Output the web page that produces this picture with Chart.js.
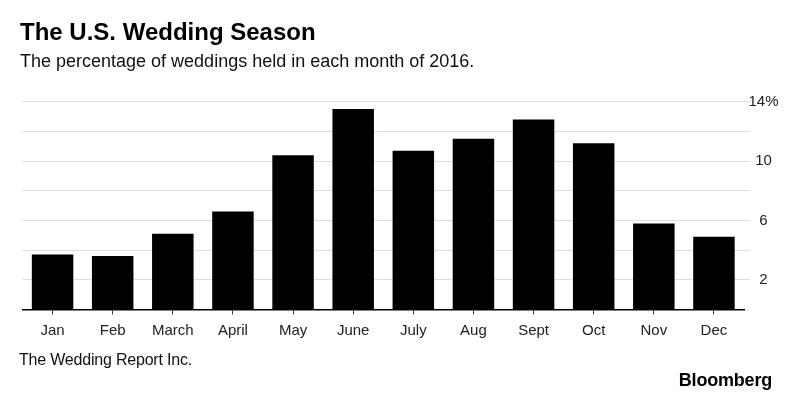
<!DOCTYPE html>
<html>
<head>
<meta charset="utf-8">
<script src="https://cdn.jsdelivr.net/npm/chart.js@4"></script>
<style>
    body { margin: 0; background: #fff; }
    #wrap { position: relative; width: 800px; height: 398px; overflow: hidden; font-family: 'Liberation Sans', Arial, sans-serif; }
    #weddingChart { position: absolute; left: 0; top: 0; }
    .txt { position: absolute; white-space: nowrap; }
    #title { left: 20px; top: 20px; font-size: 24px; line-height: 24px; font-weight: bold; color: #000; }
    #subtitle { left: 20px; top: 51.5px; font-size: 18px; line-height: 18px; color: #111; }
    #source { left: 19px; top: 352px; font-size: 16px; line-height: 16px; color: #111; letter-spacing: -0.2px; }
    #brand { right: 28px; top: 370.5px; font-size: 18px; line-height: 18px; font-weight: bold; color: #000; letter-spacing: -0.2px; }
</style>
</head>
<body>
<div id="wrap">
    <canvas id="weddingChart" width="800" height="398"></canvas>
    <div class="txt" id="title">The U.S. Wedding Season</div>
    <div class="txt" id="subtitle">The percentage of weddings held in each month of 2016.</div>
    <div class="txt" id="source">The Wedding Report Inc.</div>
    <div class="txt" id="brand">Bloomberg</div>
</div>
<script>
// Share of weddings per month, 2016 (percent)
const months = ['Jan', 'Feb', 'March', 'April', 'May', 'June', 'July', 'Aug', 'Sept', 'Oct', 'Nov', 'Dec'];
const weddingShare = [3.7, 3.6, 5.1, 6.6, 10.4, 13.5, 10.7, 11.5, 12.8, 11.2, 5.8, 4.9];
const labelledTicks = [2, 6, 10, 14];

const FONT = "'Liberation Sans', Arial, sans-serif";

new Chart(document.getElementById('weddingChart'), {
    type: 'bar',
    data: {
        labels: months,
        datasets: [{
            data: weddingShare,
            backgroundColor: '#000',
            borderWidth: 0,
            barPercentage: 0.69,
            categoryPercentage: 1
        }]
    },
    options: {
        responsive: false,
        animation: false,
        layout: {
            padding: { left: 22.5, right: 16, top: 101.7, bottom: 58.5 }
        },
        plugins: {
            legend: { display: false },
            tooltip: { enabled: false }
        },
        scales: {
            x: {
                offset: true,
                grid: {
                    offset: false,
                    drawOnChartArea: false,
                    drawTicks: true,
                    tickLength: 5,
                    color: '#333',
                    lineWidth: 1
                },
                border: { display: true, color: '#000', width: 1.5 },
                ticks: {
                    padding: 7,
                    color: '#222',
                    font: { family: FONT, size: 15 }
                },
                afterFit: scale => { scale.height = 30; }
            },
            y: {
                position: 'right',
                min: 0,
                max: 14,
                grid: {
                    color: ctx => (ctx.tick && ctx.tick.value === 0) ? 'rgba(0,0,0,0)' : '#dedede',
                    lineWidth: 1,
                    drawTicks: true,
                    tickLength: 6
                },
                border: { display: false },
                ticks: {
                    stepSize: 2,
                    crossAlign: 'center',
                    padding: -1.5,
                    color: '#222',
                    font: { family: FONT, size: 15 },
                    callback: v => labelledTicks.includes(v) ? (v === 14 ? v + '%' : String(v)) : ''
                },
                afterFit: scale => { scale.width = 40; }
            }
        }
    }
});
</script>
</body>
</html>
